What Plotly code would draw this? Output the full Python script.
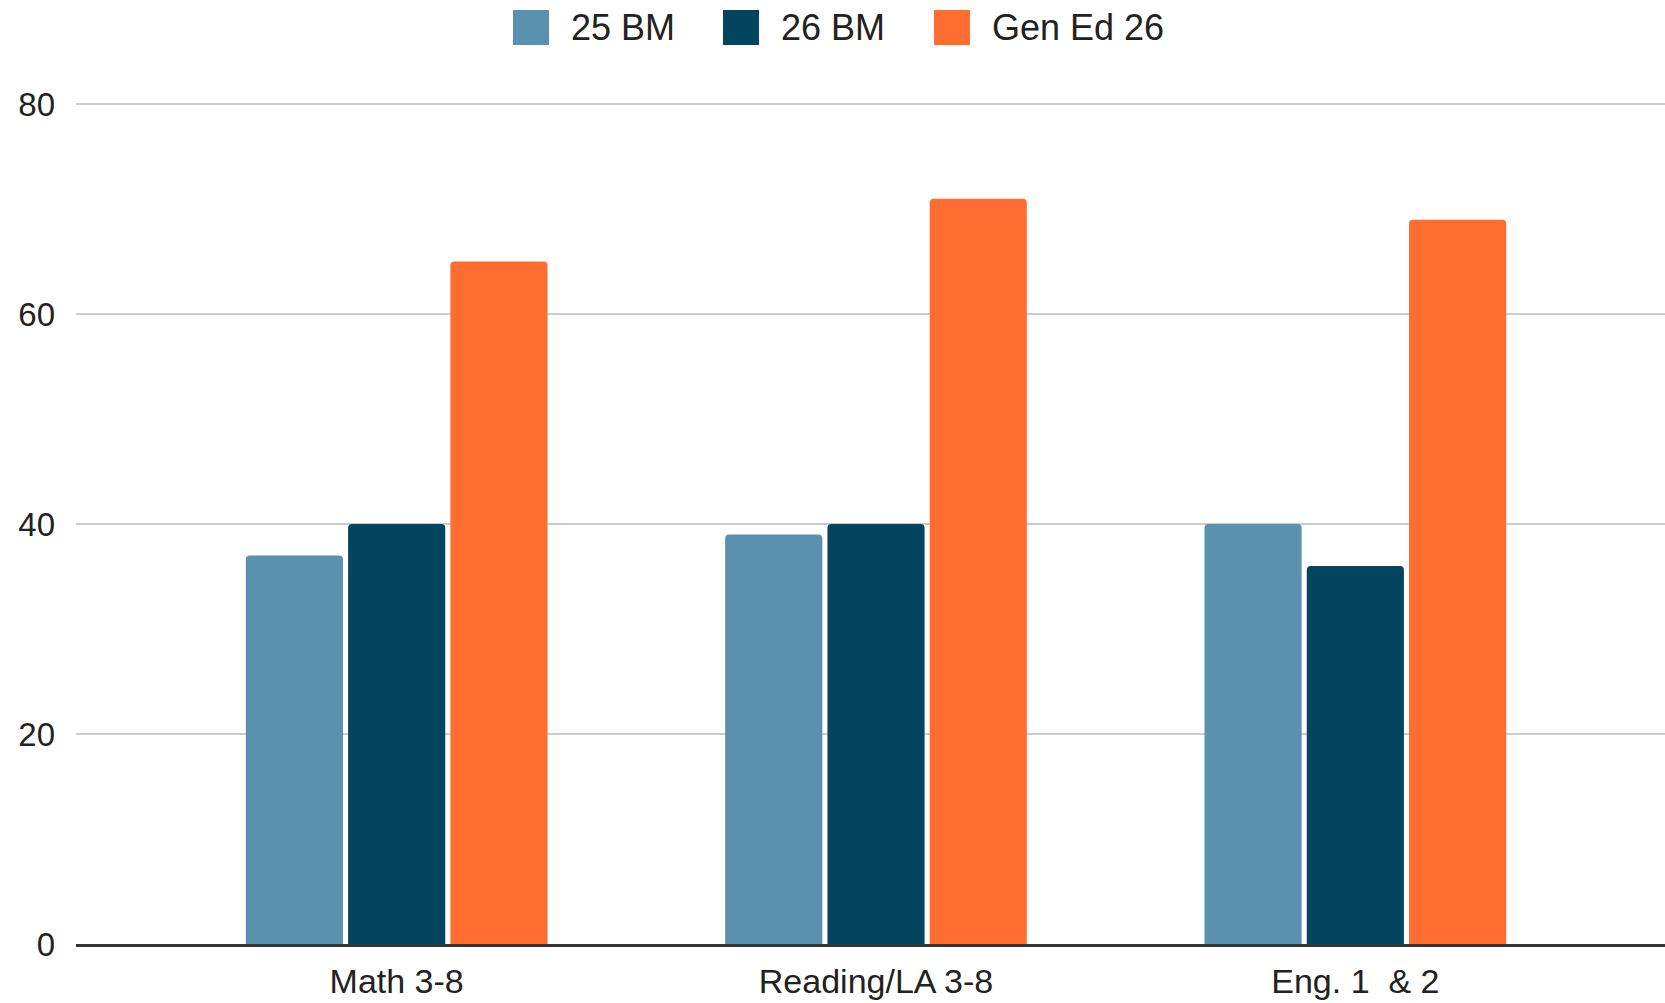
import plotly.graph_objects as go

categories = ['Math 3-8', 'Reading/LA 3-8', 'Eng. 1  & 2']
series_names = ['25 BM', '26 BM', 'Gen Ed 26']
bm_25 = [37, 39, 40]
bm_26 = [40, 40, 36]
gen_ed_26 = [65, 71, 69]
y_ticks = [0, 20, 40, 60, 80]

colors = ['#5A91AE', '#03445F', '#FF6D31']
FONT = 'Arial, Liberation Sans, sans-serif'

W, H = 1665, 1003
L, R, T, B = 76, 0, 101, 59
plot_w = W - L - R
plot_h = H - T - B


def px_x(px):
    return (px - L) / plot_w


def px_y(py):
    return (H - B - py) / plot_h


fig = go.Figure()
for name, vals, col in zip(series_names, [bm_25, bm_26, gen_ed_26], colors):
    fig.add_trace(go.Bar(x=categories, y=vals, name=name, marker_color=col,
                         marker_line_width=0, showlegend=False))

# hand-made legend with big square swatches
shapes = []
annotations = []
swatch_left = [513, 723, 934]
for name, col, sx in zip(series_names, colors, swatch_left):
    shapes.append(dict(type='rect', xref='paper', yref='paper',
                       x0=px_x(sx), x1=px_x(sx + 36), y0=px_y(45), y1=px_y(10),
                       fillcolor=col, line_width=0))
    annotations.append(dict(text=name, xref='paper', yref='paper',
                            x=px_x(sx + 56), y=px_y(28), xanchor='left', yanchor='middle',
                            showarrow=False, font=dict(size=36, color='#222222', family=FONT)))

fig.update_layout(
    width=W, height=H,
    margin=dict(l=L, r=R, t=T, b=B),
    plot_bgcolor='white', paper_bgcolor='white',
    barmode='group', bargap=0.36, bargroupgap=0.05, barcornerradius=4,
    font=dict(family=FONT, color='#222222'),
    shapes=shapes, annotations=annotations,
)
fig.update_yaxes(range=[0, 80.3], tickvals=y_ticks, showgrid=True, gridcolor='#CCCCCC',
                 gridwidth=2, zeroline=False, showline=False, automargin=False,
                 tickfont=dict(size=33, family=FONT, color='#222222'), ticklabelstandoff=20)
fig.update_xaxes(range=[-0.669, 2.646], showline=True, linecolor='#333333', linewidth=3,
                 tickfont=dict(size=34, family=FONT, color='#222222'), ticks='',
                 ticklabelstandoff=5, automargin=False)

# drop the default body margin so the figure fills the window exactly
fig.write_html('out.html', config={'displayModeBar': False},
               post_script="document.body.style.margin='0';"
               "document.body.style.overflow='hidden';")
